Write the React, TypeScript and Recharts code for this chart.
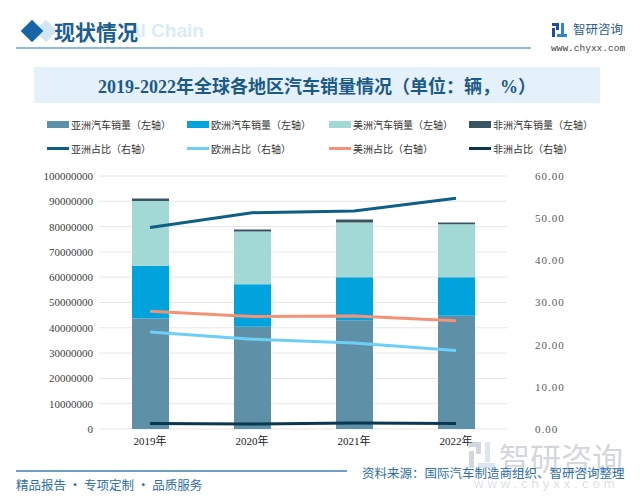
import { ComposedChart, Bar, Line, XAxis, YAxis, CartesianGrid } from 'recharts'

const years = ['2019年', '2020年', '2021年', '2022年']
const asiaSales = [43700000, 40400000, 43000000, 44800000]
const europeSales = [20800000, 16800000, 17000000, 15200000]
const americasSales = [25600000, 20900000, 21600000, 20900000]
const africaSales = [1000000, 800000, 1200000, 700000]
const asiaShare = [47.8, 51.3, 51.7, 54.7]
const europeShare = [23.0, 21.3, 20.4, 18.6]
const americasShare = [27.9, 26.7, 26.8, 25.7]
const africaShare = [1.3, 1.2, 1.4, 1.3]
const leftTicks = [0, 10000000, 20000000, 30000000, 40000000, 50000000, 60000000, 70000000, 80000000, 90000000, 100000000]
const rightTicks = [0, 10, 20, 30, 40, 50, 60]

const barSeries = [
  { key: 'asia', name: '亚洲汽车销量（左轴）', color: '#5E90A8' },
  { key: 'europe', name: '欧洲汽车销量（左轴）', color: '#00A3DC' },
  { key: 'americas', name: '美洲汽车销量（左轴）', color: '#A3D9D4' },
  { key: 'africa', name: '非洲汽车销量（左轴）', color: '#3A5462' },
]
const lineSeries = [
  { key: 'asiaShare', name: '亚洲占比（右轴）', color: '#0E5E86' },
  { key: 'europeShare', name: '欧洲占比（右轴）', color: '#6DCFF6' },
  { key: 'americasShare', name: '美洲占比（右轴）', color: '#F29276' },
  { key: 'africaShare', name: '非洲占比（右轴）', color: '#0B3850' },
]

const data = years.map((year, i) => ({
  year,
  asia: asiaSales[i],
  europe: europeSales[i],
  americas: americasSales[i],
  africa: africaSales[i],
  asiaShare: asiaShare[i],
  europeShare: europeShare[i],
  americasShare: americasShare[i],
  africaShare: africaShare[i],
}))

const cjk = '"Noto Sans CJK SC", "Noto Sans", sans-serif'
const legendCols = [47, 187, 329, 469]

function LegendItem({ x, y, name, color, thick }: { x: number; y: number; name: string; color: string; thick: boolean }) {
  return (
    <div style={{ position: 'absolute', left: x, top: y - 8, height: 16, display: 'flex', alignItems: 'center' }}>
      <div style={{ width: 22, height: thick ? 7 : 3, background: color }} />
      <span style={{ fontSize: 10, color: '#333', fontFamily: cjk, marginLeft: 2, whiteSpace: 'nowrap' }}>{name}</span>
    </div>
  )
}

export default function App() {
  return (
    <div style={{ position: 'absolute', left: 0, top: 0, width: 640, height: 504, background: '#fff', overflow: 'hidden', fontFamily: cjk }}>
      {/* header */}
      <div style={{ position: 'absolute', left: 38, top: 23, width: 16, height: 16, background: '#D3E6F3', transform: 'rotate(45deg)' }} />
      <div style={{ position: 'absolute', left: 24, top: 23, width: 16, height: 16, background: '#1767A6', transform: 'rotate(45deg)' }} />
      <div style={{ position: 'absolute', left: 130, top: 20, fontSize: 19, fontWeight: 700, color: '#D9EBF8', fontFamily: 'Liberation Sans, sans-serif', whiteSpace: 'nowrap' }}>al Chain</div>
      <div style={{ position: 'absolute', left: 54, top: 16, fontSize: 21, fontWeight: 700, color: '#1B5E92', lineHeight: '30px' }}>现状情况</div>
      <div style={{ position: 'absolute', left: 16, top: 47, width: 515, height: 2, background: '#8DBADA' }} />
      <svg style={{ position: 'absolute', left: 552, top: 23 }} width={15} height={14}>
        <rect x={0} y={0} width={7} height={3} fill="#1F4C96" />
        <rect x={4} y={0} width={3} height={7} fill="#1F4C96" />
        <rect x={0} y={5} width={3} height={9} fill="#1F4C96" />
        <rect x={9} y={0} width={3} height={11} fill="#2F86D0" />
        <rect x={5} y={11} width={10} height={3} fill="#2F86D0" />
      </svg>
      <div style={{ position: 'absolute', left: 573, top: 20, fontSize: 12.5, color: '#2C5D8D', lineHeight: '18px' }}>智研咨询</div>
      <div style={{ position: 'absolute', left: 551, top: 42, fontSize: 9.5, color: '#444', fontFamily: '"Liberation Mono", monospace', lineHeight: '14px' }}>www.chyxx.com</div>

      {/* title */}
      <div style={{ position: 'absolute', left: 34, top: 67, width: 566, height: 36, background: '#E5F1FA', display: 'flex', alignItems: 'center', justifyContent: 'center' }}>
        <span style={{ fontSize: 18, fontWeight: 700, color: '#1B5A87', fontFamily: '"Liberation Serif", "Noto Sans CJK SC", serif' }}>2019-2022年全球各地区汽车销量情况（单位：辆，%）</span>
      </div>

      {/* legend */}
      {barSeries.map((s, i) => (
        <LegendItem key={s.key} x={legendCols[i]} y={124} name={s.name} color={s.color} thick />
      ))}
      {lineSeries.map((s, i) => (
        <LegendItem key={s.key} x={legendCols[i]} y={148} name={s.name} color={s.color} thick={false} />
      ))}

      <div style={{ position: 'absolute', left: 0, top: 0 }}>
        <ComposedChart width={640} height={504} data={data} margin={{ top: 176, right: 33, bottom: 45, left: 37 }}>
          <CartesianGrid yAxisId="left" vertical={false} stroke="#E6E6E6" />
          <XAxis
            dataKey="year"
            axisLine={false}
            tickLine={false}
            tickSize={0}
            tickMargin={8}
            height={30}
            tick={{ fontSize: 11, fill: '#222', fontFamily: '"Liberation Serif", "Noto Sans CJK SC", serif' }}
          />
          <YAxis
            yAxisId="left"
            orientation="left"
            width={62}
            domain={[0, 100000000]}
            ticks={leftTicks}
            interval={0}
            axisLine={false}
            tickLine={false}
            tickSize={0}
            tickMargin={6}
            tickFormatter={(v: number) => String(v)}
            tick={{ fontSize: 11, fill: '#404040', fontFamily: '"Liberation Serif", serif' }}
          />
          <YAxis
            yAxisId="right"
            orientation="right"
            width={100}
            domain={[0, 60]}
            ticks={rightTicks}
            interval={0}
            axisLine={false}
            tickLine={false}
            tickSize={0}
            tickMargin={28}
            tickFormatter={(v: number) => v.toFixed(2)}
            tick={{ fontSize: 11, fill: '#595959', fontFamily: '"Liberation Serif", serif', letterSpacing: 1 }}
          />
          {barSeries.map((s) => (
            <Bar key={s.key} yAxisId="left" dataKey={s.key} name={s.name} stackId="sales" fill={s.color} barSize={37} isAnimationActive={false} />
          ))}
          {lineSeries.map((s) => (
            <Line
              key={s.key}
              yAxisId="right"
              type="linear"
              dataKey={s.key}
              name={s.name}
              stroke={s.color}
              strokeWidth={3}
              dot={false}
              activeDot={false}
              isAnimationActive={false}
            />
          ))}
        </ComposedChart>
      </div>

      {/* watermark */}
      <svg style={{ position: 'absolute', left: 469, top: 442, opacity: 0.35 }} width={26} height={26}>
        <rect x={0} y={0} width={12} height={5} fill="#8090A0" />
        <rect x={7} y={0} width={5} height={12} fill="#8090A0" />
        <rect x={0} y={9} width={5} height={17} fill="#8090A0" />
        <rect x={16} y={0} width={5} height={20} fill="#A0B8CC" />
        <rect x={9} y={21} width={17} height={5} fill="#A0B8CC" />
      </svg>
      <div style={{ position: 'absolute', left: 499, top: 437, fontSize: 31, color: 'rgba(140,150,160,0.4)', lineHeight: '40px', whiteSpace: 'nowrap' }}>智研咨询</div>
      <div style={{ position: 'absolute', left: 474, top: 476, fontSize: 13, color: 'rgba(150,160,170,0.35)', letterSpacing: 4, fontFamily: 'Liberation Sans, sans-serif', whiteSpace: 'nowrap' }}>www.chyxx.com</div>

      {/* footer */}
      <div style={{ position: 'absolute', left: 16, top: 470, width: 331, height: 2, background: '#6F9DC4' }} />
      <div style={{ position: 'absolute', left: 362, top: 464, fontSize: 12.5, color: '#2E6FA8', lineHeight: '18px', whiteSpace: 'nowrap' }}>资料来源：国际汽车制造商组织、智研咨询整理</div>
      <div style={{ position: 'absolute', left: 16, top: 476, fontSize: 12.5, color: '#2E6FA8', lineHeight: '18px', whiteSpace: 'nowrap' }}>精品报告 · 专项定制 · 品质服务</div>
    </div>
  )
}
